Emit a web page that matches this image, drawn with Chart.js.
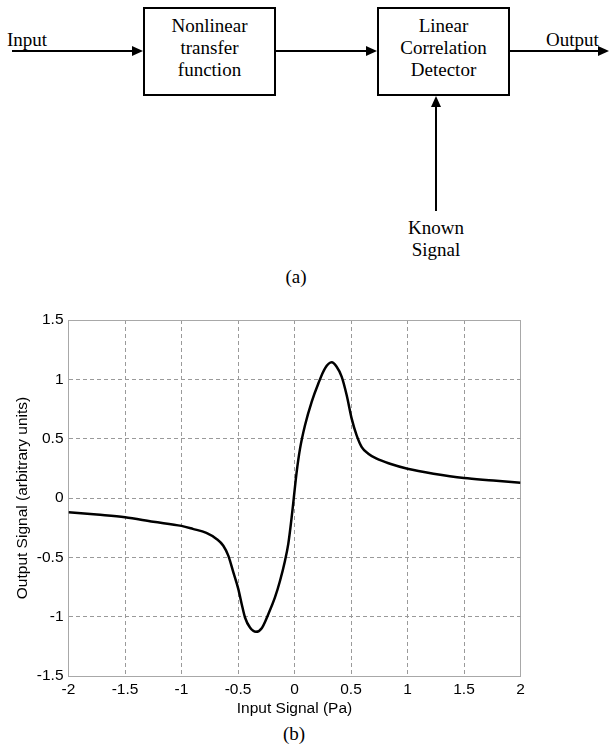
<!DOCTYPE html>
<html>
<head>
<meta charset="utf-8">
<script src="https://cdn.jsdelivr.net/npm/chart.js@4.4.1/dist/chart.umd.min.js"></script>
<style>
  body { margin: 0; width: 609px; height: 755px; background: #fff; position: relative; overflow: hidden;
         font-family: 'Liberation Serif', 'Times New Roman', serif; color: #000; }
  .box { position: absolute; border: 2px solid #000; box-sizing: border-box; text-align: center;
         font-size: 19px; line-height: 22px; padding-top: 6px; }
  .hline { position: absolute; height: 2px; background: #000; }
  .vline { position: absolute; width: 2px; background: #000; }
  .arrow-r { position: absolute; width: 0; height: 0; border-top: 5px solid transparent;
             border-bottom: 5px solid transparent; border-left: 11px solid #000; }
  .arrow-u { position: absolute; width: 0; height: 0; border-left: 5px solid transparent;
             border-right: 5px solid transparent; border-bottom: 11px solid #000; }
  .lbl { position: absolute; font-size: 19px; line-height: 22px; white-space: nowrap; }
  .ctr { width: 100px; text-align: center; }
  #plot { position: absolute; left: 0; top: 300px; }
</style>
</head>
<body>

<!-- (a) block diagram -->
<div class="lbl" style="left:7px; top:29px;">Input</div>
<div class="hline" style="left:12px; top:50px; width:122px;"></div>
<div class="arrow-r" style="left:132px; top:46px;"></div>

<div class="box" style="left:143px; top:7px; width:133px; height:89px;">Nonlinear<br>transfer<br>function</div>

<div class="hline" style="left:276px; top:50px; width:92px;"></div>
<div class="arrow-r" style="left:366px; top:46px;"></div>

<div class="box" style="left:377px; top:7px; width:133px; height:89px;">Linear<br>Correlation<br>Detector</div>

<div class="hline" style="left:510px; top:50px; width:90px;"></div>
<div class="arrow-r" style="left:598px; top:46px;"></div>
<div class="lbl" style="left:546px; top:29px;">Output</div>

<div class="arrow-u" style="left:431px; top:96px;"></div>
<div class="vline" style="left:435px; top:105px; height:106px;"></div>
<div class="lbl ctr" style="left:386px; top:217px;">Known<br>Signal</div>

<div class="lbl ctr" style="left:246px; top:266px;">(a)</div>

<!-- (b) chart -->
<canvas id="plot" width="609" height="420"></canvas>
<div class="lbl ctr" style="left:244px; top:723px;">(b)</div>

<script>
const inputPa = [-2.0, -1.75, -1.5, -1.25, -1.0, -0.9, -0.78, -0.69, -0.63, -0.586, -0.541, -0.497,
  -0.467, -0.438, -0.394, -0.341, -0.29, -0.232, -0.173, -0.128, -0.084, -0.055, -0.025, -0.008,
  0.019, 0.049, 0.093, 0.152, 0.211, 0.27, 0.329, 0.373, 0.418, 0.462, 0.506, 0.55, 0.595, 0.653,
  0.727, 0.845, 1.0, 1.23, 1.5, 1.76, 2.0];
const outputSignal = [-0.12, -0.14, -0.162, -0.2, -0.235, -0.26, -0.294, -0.345, -0.402, -0.486,
  -0.627, -0.768, -0.895, -1.007, -1.092, -1.128, -1.097, -0.979, -0.838, -0.697, -0.528, -0.387,
  -0.162, -0.015, 0.218, 0.416, 0.613, 0.81, 0.965, 1.092, 1.143, 1.106, 1.021, 0.866, 0.669, 0.528,
  0.429, 0.373, 0.331, 0.289, 0.247, 0.205, 0.168, 0.148, 0.128];
const xTicks = [-2, -1.5, -1, -0.5, 0, 0.5, 1, 1.5, 2];
const yTicks = [-1.5, -1, -0.5, 0, 0.5, 1, 1.5];

const tickFont = { family: "'Liberation Sans', Arial, sans-serif", size: 15.5 };
const gridGray = '#9a9a9a';
const boxGray = '#a8a8a8';

// outer ticks form the plot frame, so draw them solid
const edgeDash = (ticks) => (ctx) => {
  if (!ctx.tick) return [];
  const v = ctx.tick.value;
  return (v === ticks[0] || v === ticks[ticks.length - 1]) ? [] : [4, 3];
};
const edgeColor = (ticks) => (ctx) => {
  if (!ctx.tick) return boxGray;
  const v = ctx.tick.value;
  return (v === ticks[0] || v === ticks[ticks.length - 1]) ? boxGray : gridGray;
};

new Chart(document.getElementById('plot').getContext('2d'), {
  type: 'line',
  data: {
    datasets: [{
      label: 'Output Signal',
      data: inputPa.map((x, i) => ({ x: x, y: outputSignal[i] })),
      borderColor: '#000',
      borderWidth: 2.5,
      pointRadius: 0,
      fill: false,
      cubicInterpolationMode: 'monotone',
      borderJoinStyle: 'round'
    }]
  },
  options: {
    responsive: false,
    animation: false,
    layout: { padding: { top: 20, right: 88.5, left: 0, bottom: 0 } },
    plugins: { legend: { display: false }, tooltip: { enabled: false } },
    scales: {
      x: {
        type: 'linear',
        min: -2, max: 2,
        afterBuildTicks: (s) => { s.ticks = xTicks.map(v => ({ value: v })); },
        afterFit: (s) => { s.height = 44; },
        ticks: { color: '#000', font: tickFont, padding: 4, maxRotation: 0,
                 callback: (v) => String(v) },
        grid: { color: edgeColor(xTicks), lineWidth: 1, drawTicks: false },
        border: { color: boxGray, width: 1, dash: edgeDash(xTicks) },
        title: { display: true, text: 'Input Signal (Pa)', color: '#000', font: tickFont,
                 padding: { top: 0, bottom: 2 } }
      },
      y: {
        type: 'linear',
        min: -1.5, max: 1.5,
        afterBuildTicks: (s) => { s.ticks = yTicks.map(v => ({ value: v })); },
        afterFit: (s) => { s.width = 68.5; },
        ticks: { color: '#000', font: tickFont, padding: 5, callback: (v) => String(v) },
        grid: { color: edgeColor(yTicks), lineWidth: 1, drawTicks: false },
        border: { color: boxGray, width: 1, dash: edgeDash(yTicks) },
        title: { display: true, text: 'Output Signal (arbitrary units)', color: '#000', font: tickFont,
                 padding: { top: 13, bottom: 0 } }
      }
    }
  }
});
</script>
</body>
</html>
